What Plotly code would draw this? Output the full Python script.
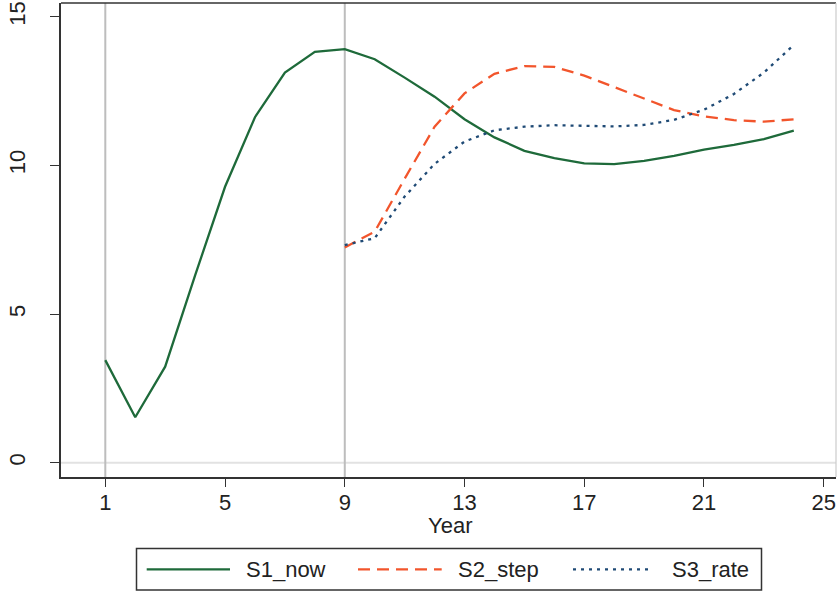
import plotly.graph_objects as go

# ---- data ----
years_s1 = list(range(1, 25))
s1_now = [3.45, 1.53, 3.23, 6.30, 9.28, 11.62, 13.12, 13.82, 13.91, 13.57, 12.95, 12.31,
          11.55, 10.94, 10.49, 10.24, 10.07, 10.04, 10.15, 10.32, 10.53, 10.69, 10.88, 11.17]
years_s2 = list(range(9, 25))
s2_step = [7.24, 7.77, 9.55, 11.30, 12.42, 13.08, 13.34, 13.31, 13.02, 12.63, 12.23, 11.86,
           11.65, 11.52, 11.47, 11.55]
years_s3 = list(range(9, 25))
s3_rate = [7.32, 7.55, 8.95, 10.05, 10.80, 11.18, 11.30, 11.35, 11.33, 11.31, 11.36, 11.53,
           11.87, 12.40, 13.12, 14.05]
x_ticks = [1, 5, 9, 13, 17, 21, 25]
y_ticks = [0, 5, 10, 15]
ref_x = [1, 9]
ref_y = [0]
series_names = ["S1_now", "S2_step", "S3_rate"]
x_title = "Year"

# ---- styles ----
GREEN = "#1e6a3a"
RED = "#f2552c"
BLUE = "#1f4a75"
DASHES = ["solid", "12px,7px", "3px,5px"]
COLORS = [GREEN, RED, BLUE]
FONT = "Liberation Sans, Arial, Helvetica, sans-serif"

W, H = 837, 592
L, R, T, B = 61, 836, 3, 477


def px_x(p):
    return (p - L) / (R - L)


def px_y(p):
    return (B - p) / (B - T)


fig = go.Figure()
for xs, ys, name, col, dash in zip([years_s1, years_s2, years_s3],
                                   [s1_now, s2_step, s3_rate],
                                   series_names, COLORS, DASHES):
    fig.add_trace(go.Scatter(x=xs, y=ys, mode="lines", name=name,
                             line=dict(color=col, width=2.3, dash=dash),
                             showlegend=False))

shapes = []
for yv in ref_y:
    shapes.append(dict(type="line", xref="paper", x0=0, x1=1, yref="y", y0=yv, y1=yv,
                       line=dict(color="#e2e2e2", width=2), layer="below"))
for xv in ref_x:
    shapes.append(dict(type="line", xref="x", x0=xv, x1=xv, yref="paper", y0=0, y1=1,
                       line=dict(color="#bdbdbd", width=2), layer="below"))
# frame top / right
shapes.append(dict(type="line", xref="paper", x0=0, x1=1, yref="paper", y0=1, y1=1,
                   line=dict(color="#333333", width=1.5)))
shapes.append(dict(type="line", xref="paper", x0=1, x1=1, yref="paper", y0=0, y1=1,
                   line=dict(color="#cccccc", width=1.2)))

# manual legend
shapes.append(dict(type="rect", xref="paper", yref="paper",
                   x0=px_x(136.5), x1=px_x(761.5), y0=px_y(548.5), y1=px_y(590),
                   line=dict(color="#333333", width=1.5), fillcolor="white"))
leg_lines = [(146.7, 230), (358, 441.7), (573, 653)]
leg_text_x = [244.3, 455.7, 670]
ly = px_y(569.3)
annotations = []
for (a, b), tx, name, col, dash in zip(leg_lines, leg_text_x, series_names, COLORS, DASHES):
    shapes.append(dict(type="line", xref="paper", yref="paper", x0=px_x(a), x1=px_x(b),
                       y0=ly, y1=ly, line=dict(color=col, width=2.3, dash=dash)))
    annotations.append(dict(text=name, xref="paper", yref="paper", x=px_x(tx), y=ly,
                            xanchor="left", yanchor="middle", showarrow=False,
                            font=dict(family=FONT, size=22, color="#222222")))
# x axis title
annotations.append(dict(text=x_title, xref="paper", yref="paper", x=px_x(450), y=px_y(525),
                        xanchor="center", yanchor="middle", showarrow=False,
                        font=dict(family=FONT, size=22, color="#222222")))

fig.update_layout(
    width=W, height=H,
    margin=dict(l=L, r=W - R, t=T, b=H - B, pad=0),
    paper_bgcolor="white", plot_bgcolor="white",
    font=dict(family=FONT, size=22, color="#222222"),
    shapes=shapes, annotations=annotations,
    xaxis=dict(range=[-0.48, 25.41], tickmode="array", tickvals=x_ticks,
               ticktext=[str(v) for v in x_ticks],
               showgrid=False, zeroline=False, showline=True, linecolor="#333333",
               linewidth=1.5, ticks="outside", ticklen=8, tickwidth=1.3, tickcolor="#333333",
               tickfont=dict(size=22), ticklabelstandoff=-3),
    yaxis=dict(range=[-0.48, 15.46], tickmode="array", tickvals=y_ticks,
               ticktext=[str(v) for v in y_ticks],
               showgrid=False, zeroline=False, showline=True, linecolor="#333333",
               linewidth=1.5, ticks="outside", ticklen=9, tickwidth=1.3, tickcolor="#333333",
               tickangle=-90, tickfont=dict(size=22), ticklabelstandoff=16),
)

fig.write_html("out.html")
